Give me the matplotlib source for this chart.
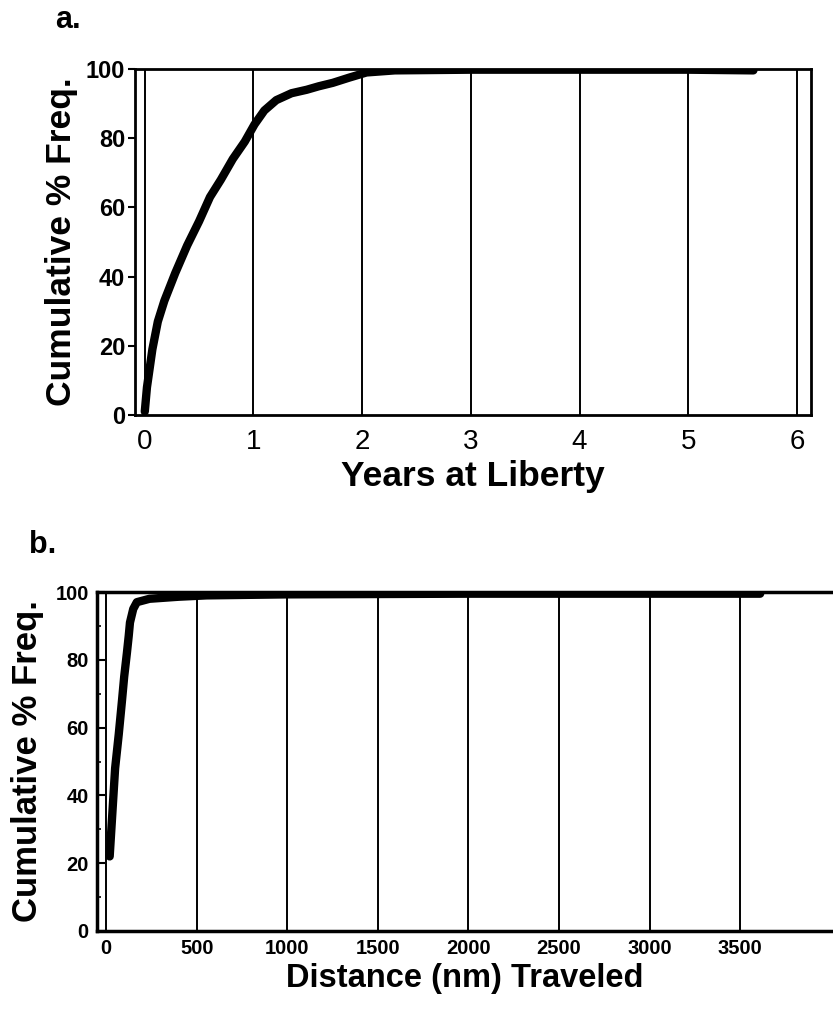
import matplotlib
matplotlib.use("Agg")
import matplotlib.pyplot as plt
from matplotlib.ticker import MultipleLocator

plt.rcParams['font.family'] = ['Liberation Sans', 'DejaVu Sans']

# Panel a: years at liberty
years_a = [0.0, 0.02, 0.07, 0.12, 0.18, 0.28, 0.39, 0.50, 0.60, 0.70, 0.81, 0.92, 1.01, 1.10,
           1.21, 1.35, 1.49, 1.60, 1.73, 1.88, 2.04, 2.30, 3.0, 4.0, 5.0, 5.6]
cum_a = [1, 8, 19, 27, 33, 41, 49, 56, 63, 68, 74, 79, 84, 88,
         91, 93, 94, 95, 96, 97.5, 99, 99.6, 99.8, 99.8, 99.8, 99.6]
xticks_a = [0, 1, 2, 3, 4, 5, 6]
yticks = [0, 20, 40, 60, 80, 100]

# Panel b: distance traveled
dist_b = [20, 35, 50, 70, 88, 100, 115, 125, 132, 150, 170, 240, 400, 555, 1000, 2000, 3000, 3610]
cum_b = [22, 35, 48, 58, 68, 75, 82, 87, 91, 95, 97, 98, 98.6, 99, 99.3, 99.5, 99.5, 99.5]
xticks_b = [0, 500, 1000, 1500, 2000, 2500, 3000, 3500]

W, H = 833, 1011
fig = plt.figure(figsize=(W / 100, H / 100), dpi=100)

def ax_rect(l, t, r, b):
    return [l / W, 1 - b / H, (r - l) / W, (b - t) / H]

# ---------------- panel a ----------------
ax1 = fig.add_axes(ax_rect(135, 69, 811, 415))
ax1.plot(years_a, cum_a, color='black', lw=6, solid_capstyle='round', zorder=3)
ax1.set_xlim(-0.09, 6.13)
ax1.set_ylim(0, 100)
for xv in xticks_a:
    ax1.axvline(xv, color='black', lw=1.4, zorder=1)
ax1.set_xticks(xticks_a)
ax1.set_xticklabels([str(v) for v in xticks_a], fontsize=20)
ax1.set_yticks(yticks)
ax1.set_yticklabels([str(v) for v in yticks], fontsize=17, fontweight='bold')
ax1.tick_params(axis='x', length=0, pad=10)
ax1.tick_params(axis='y', length=5, width=1.5, direction='out', pad=2)
for s in ax1.spines.values():
    s.set_linewidth(2)
ax1.set_xlabel('Years at Liberty', fontsize=25.5, fontweight='bold', labelpad=4)
ax1.set_ylabel('Cumulative % Freq.', fontsize=25.5, fontweight='bold', labelpad=6)
fig.text(55 / W, 1 - 20 / H, 'a.', fontsize=22, fontweight='bold', va='center', ha='left')

# ---------------- panel b ----------------
ax2 = fig.add_axes(ax_rect(97, 592, 833, 931))
ax2.plot(dist_b, cum_b, color='black', lw=6, solid_capstyle='round', zorder=3)
ax2.set_xlim(-50, 4012)
ax2.set_ylim(0, 100)
for xv in xticks_b:
    ax2.axvline(xv, color='black', lw=1.4, zorder=1)
ax2.set_xticks(xticks_b)
ax2.set_xticklabels([str(v) for v in xticks_b], fontsize=14.5, fontweight='bold')
ax2.set_yticks(yticks)
ax2.set_yticklabels([str(v) for v in yticks], fontsize=14.5, fontweight='bold')
ax2.yaxis.set_minor_locator(MultipleLocator(10))
ax2.tick_params(axis='x', length=0, pad=6)
ax2.tick_params(axis='y', which='major', length=6, width=1.5, direction='in', pad=6)
ax2.tick_params(axis='y', which='minor', length=3, width=1.2, direction='in')
ax2.spines['right'].set_visible(False)
for s in ['left', 'top', 'bottom']:
    ax2.spines[s].set_linewidth(2.5)
ax2.set_xlabel('Distance (nm) Traveled', fontsize=23.5, fontweight='bold', labelpad=3)
ax2.set_ylabel('Cumulative % Freq.', fontsize=25, fontweight='bold', labelpad=8)
fig.text(29 / W, 1 - 545 / H, 'b.', fontsize=22, fontweight='bold', va='center', ha='left')

fig.savefig('out.png', dpi=100)
